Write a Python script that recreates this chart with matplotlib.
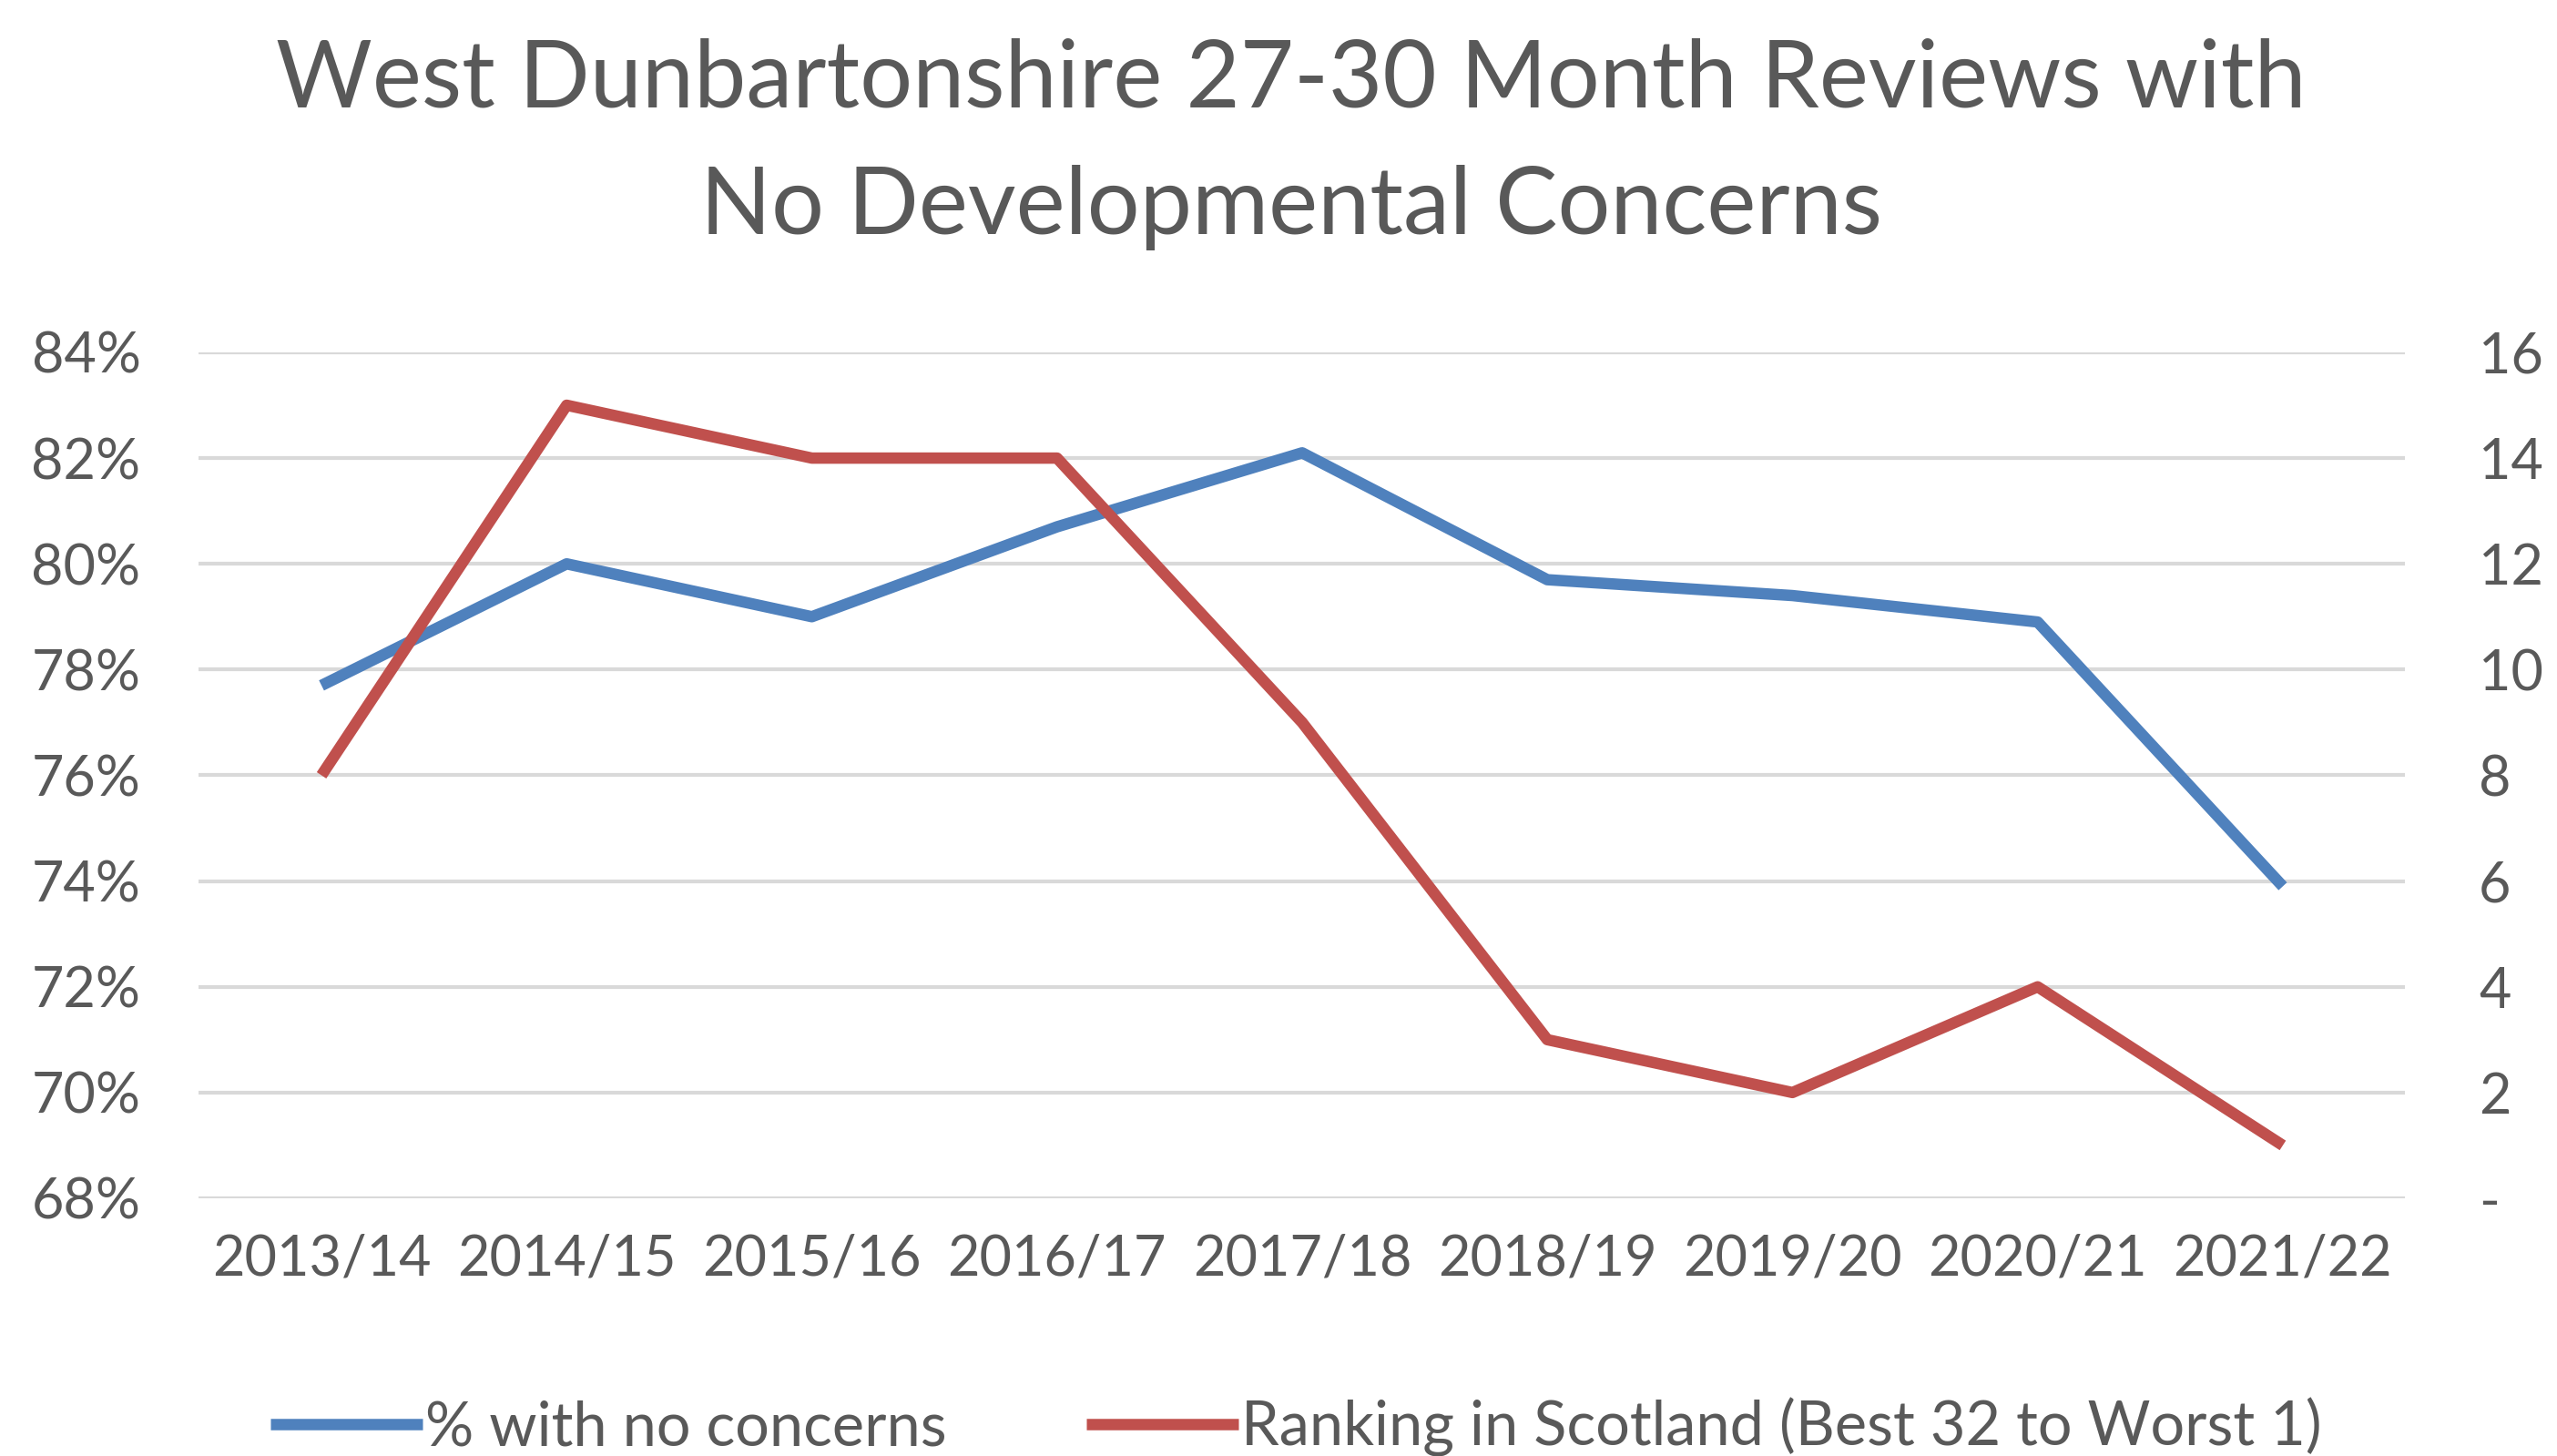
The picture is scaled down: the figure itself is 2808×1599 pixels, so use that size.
import matplotlib.pyplot as plt

years = ["2013/14", "2014/15", "2015/16", "2016/17", "2017/18",
         "2018/19", "2019/20", "2020/21", "2021/22"]
pct_no_concerns = [77.7, 80.0, 79.0, 80.7, 82.1, 79.7, 79.4, 78.9, 73.9]
ranking = [8, 15, 14, 14, 9, 3, 2, 4, 1]

left_ticks = [68, 70, 72, 74, 76, 78, 80, 82, 84]
right_ticks = [0, 2, 4, 6, 8, 10, 12, 14, 16]
right_labels = ["-", "2", "4", "6", "8", "10", "12", "14", "16"]

blue = "#4F81BD"
red = "#C0504D"
grey = "#595959"

plt.rcParams['font.family'] = ['Lato', 'DejaVu Sans']

fig = plt.figure(figsize=(14.04, 7.995), dpi=200)
ax = fig.add_axes([0.0778, 0.177, 0.8629, 0.581])
ax2 = ax.twinx()

x = list(range(len(years)))
l1, = ax.plot(x, pct_no_concerns, color=blue, lw=4.5, solid_capstyle='butt')
l2, = ax2.plot(x, ranking, color=red, lw=4.5, solid_capstyle='butt')

ax.set_xlim(-0.5, len(years) - 0.5)
ax.set_ylim(68, 84)
ax2.set_ylim(0, 16)

ax.set_yticks(left_ticks)
ax.set_yticklabels([f"{t}%" for t in left_ticks])
ax2.set_yticks(right_ticks)
ax2.set_yticklabels(right_labels)
ax.set_xticks(x)
ax.set_xticklabels(years)

ax.grid(axis='y', color='#D9D9D9', lw=1.5)
ax.set_axisbelow(True)
for a in (ax, ax2):
    for s in a.spines.values():
        s.set_visible(False)
    a.tick_params(length=0, labelsize=22, colors=grey)
ax.tick_params(axis='y', pad=23)
ax2.tick_params(axis='y', pad=29)
ax.tick_params(axis='x', pad=14)

fig.text(0.505, 0.901,
         "West Dunbartonshire 27-30 Month Reviews with\nNo Developmental Concerns",
         fontsize=36.8, color=grey, ha='center', va='center', linespacing=1.6)

fig.legend([l1, l2], ["% with no concerns", "Ranking in Scotland (Best 32 to Worst 1)"],
           loc='center', bbox_to_anchor=(0.507, 0.02), ncol=2, frameon=False,
           fontsize=24, labelcolor=grey, handlelength=2.5, handletextpad=0.05,
           columnspacing=2.3)

fig.savefig("out.png", dpi=200)
